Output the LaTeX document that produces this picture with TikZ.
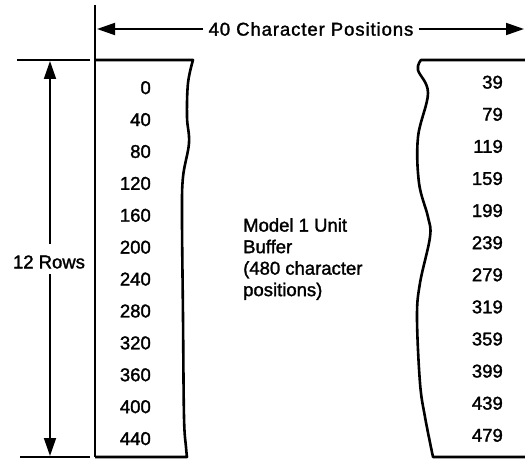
\documentclass[tikz,border=0pt]{standalone}
\usepackage{fontspec}
\setmainfont{Liberation Sans}[FakeBold=1.6]
\usetikzlibrary{arrows.meta}
\tikzset{
  boxline/.style={line width=2.6pt, line join=round},
  dimline/.style={line width=1.8pt},
  dimarrow/.style={line width=1.8pt, -{Triangle[length=18pt,width=12pt]}},
  lbl/.style={inner sep=0pt, font=\fontsize{18.5}{21.5}\selectfont},
  num/.style={inner sep=0pt, anchor=base east, font=\fontsize{18.5}{21.5}\selectfont}
}
\begin{document}
\begin{tikzpicture}[x=1pt,y=-1pt]
\useasboundingbox (0,0) rectangle (525,460);
% left box
\draw[boxline] (95,5) -- (95,457);
\draw[boxline] (95,60) -- plot[smooth, tension=0.6] coordinates {(193,60) (188,83) (187,117) (189,143) (183,177) (182,217) (183,317) (184,417) (186,447) (187,457)} -- (95,457);
% right box
\draw[boxline] (525,60) -- plot[smooth, tension=0.6] coordinates {(421,60) (418,70) (428,93) (418,137) (419,183) (428,217) (430,237) (420,283) (417,317) (420,383) (425,417) (433,457)} -- (525,457);
% extension lines
\coordinate (ltA) at (17,60); \coordinate (ltB) at (90,60);
\coordinate (lbA) at (20,457); \coordinate (lbB) at (90,457);
\draw[dimline] (ltA) -- (ltB);
\draw[dimline] (lbA) -- (lbB);
% top dimension
\node[lbl, font=\fontsize{18.5}{21.5}\selectfont\addfontfeatures{LetterSpace=5}] (top) at (311,29) {40 Character Positions};
\coordinate (tl) at (97,29);
\coordinate (tr) at (524,29);
\draw[dimarrow] ([xshift=-5pt]top.west) -- (tl);
\draw[dimarrow] ([xshift=5pt]top.east) -- (tr);
% vertical dimension
\node[lbl] (rows) at (49,262) {12 Rows};
\coordinate (vt) at (50,61);
\coordinate (vb) at (50,456);
\draw[dimarrow] (50,244) -- (vt);
\draw[dimarrow] (50,274) -- (vb);
% numbers
\foreach \i in {0,...,11} {
  \pgfmathtruncatemacro\nl{40*\i}
  \pgfmathtruncatemacro\nr{40*\i+39}
  \node[num] (l\i) at (151,{87.5+6.6+31.9*\i}) {\nl};
  \node[num] (r\i) at (503,{82+6.6+32.1*\i}) {\nr};
}
% middle text
\node[lbl, anchor=north west, align=left] (mid) at (243,218) {Model 1 Unit\\Buffer\\(480 character\\positions)};
\end{tikzpicture}
\end{document}
